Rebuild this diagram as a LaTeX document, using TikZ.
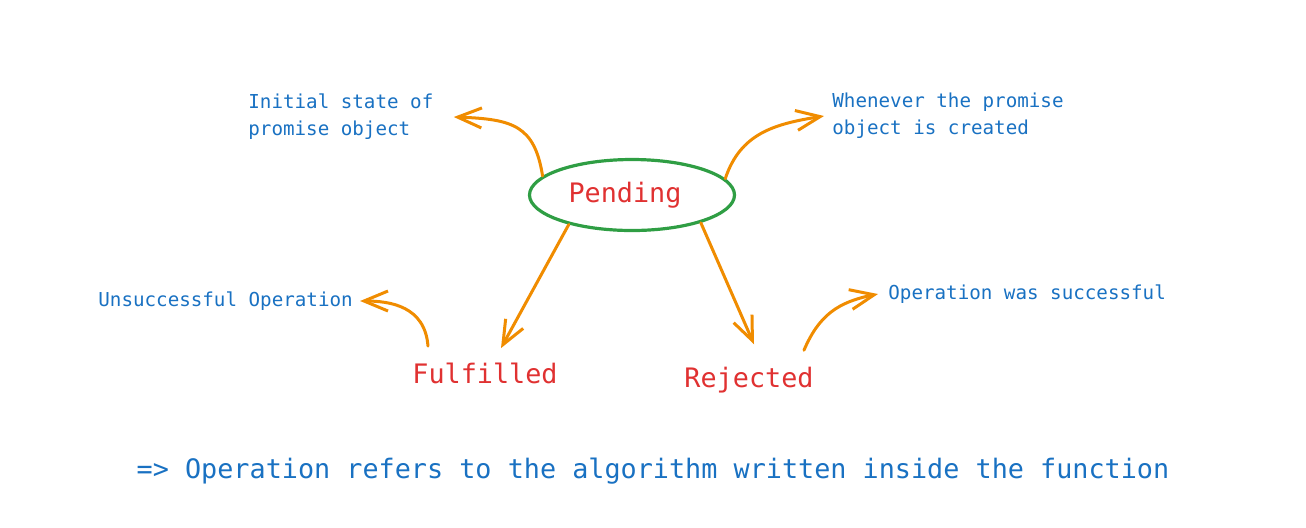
\documentclass[tikz,border=0pt]{standalone}
\usepackage{fontspec}
\newfontfamily\sketchfont{DejaVu Sans Mono}
\usepackage{xcolor}
\definecolor{sketchBlue}{HTML}{1971C2}
\definecolor{sketchRed}{HTML}{E03131}
\definecolor{sketchGreen}{HTML}{2F9E44}
\definecolor{sketchOrange}{HTML}{F08C00}
\usepackage{tikz}
\usetikzlibrary{arrows.meta, shapes.geometric}

\begin{document}
\begin{tikzpicture}[
		x=0.5pt, y=-0.5pt,
		state/.style={
			text=sketchRed,
			inner sep=0pt,
			font=\sketchfont\fontsize{13.4}{16}\selectfont
		},
		note/.style={
			text=sketchBlue,
			inner sep=0pt,
			anchor=west,
			align=left,
			font=\sketchfont\fontsize{9.6}{13.5}\selectfont
		},
		arrow/.style={-{Straight Barb[length=12pt,width=10pt]}, sketchOrange, line width=1.5pt, line cap=round}
		]
		\useasboundingbox (0,0) rectangle (1306,527);
		
		\node[state, ellipse, draw=sketchGreen, line width=1.6pt, minimum width=102.5pt, minimum height=35.5pt] (pending) at (632,195) {Pending\kern7pt};
		\node[state, anchor=base] (fulfilled) at (485,383) {Fulfilled};
		\node[state, anchor=base] (rejected) at (749,387) {Rejected};
		
		\node[note] (initial) at (248,117) {Initial state of\\promise object};
		\node[note] (created) at (832,116) {Whenever the promise\\object is created};
		\node[note] (unsuccess) at (98,301) {Unsuccessful Operation};
		\node[note] (success) at (888,294) {Operation was successful};
		
		\node[text=sketchBlue, font=\sketchfont\fontsize{13.4}{16}\selectfont] (remark) at (653,471) {=> Operation refers to the algorithm written inside the function};
		
		\draw[arrow] (pending.168) .. controls +(-8,-50) and +(60,2) .. ([xshift=10pt]initial.east);
		\draw[arrow] (pending.10) .. controls +(15,-45) and +(-50,8) .. ([xshift=-4pt]created.west);
		\draw[arrow] (pending.205) -- ([xshift=8pt,yshift=7pt]fulfilled.north);
		\draw[arrow] (pending.338) -- ([xshift=2.5pt,yshift=11pt]rejected.north);
		\draw[arrow] ([xshift=8pt,yshift=8pt]fulfilled.north west) .. controls +(-3,-40) and +(30,0) .. ([xshift=3.5pt]unsuccess.east);
		\draw[arrow] ([xshift=-5pt,yshift=8pt]rejected.north east) .. controls +(15,-35) and +(-40,8) .. ([xshift=-5pt]success.west);
		
	\end{tikzpicture}
\end{document}
